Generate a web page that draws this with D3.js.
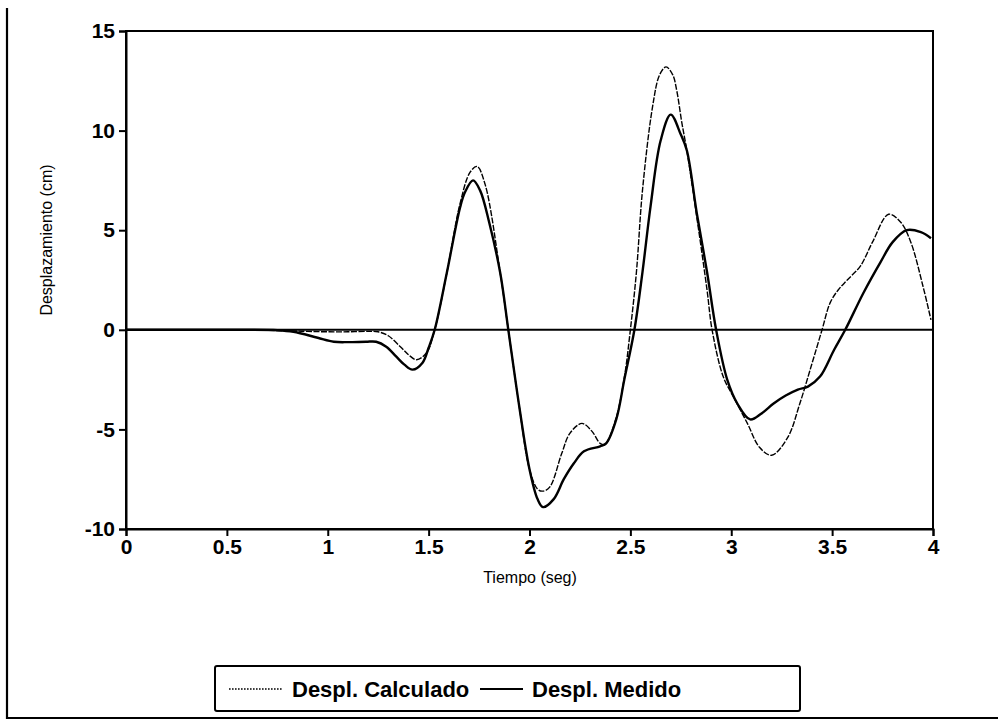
<!DOCTYPE html>
<html>
<head>
<meta charset="utf-8">
<script src="https://cdn.jsdelivr.net/npm/d3@7"></script>
<style>
  body { margin: 0; background: #fff; }
  svg { display: block; font-family: "Liberation Sans", Arial, sans-serif; }
</style>
</head>
<body>
<div id="chart"></div>
<script>
// Data
var calcT = [0, 0.5, 0.8, 0.9, 1.0, 1.1, 1.2, 1.25, 1.3, 1.36, 1.4, 1.44, 1.49, 1.53, 1.59, 1.655, 1.705, 1.74, 1.78, 1.855, 1.895, 1.95, 2.0, 2.04, 2.065, 2.1, 2.16, 2.2, 2.26, 2.31, 2.35, 2.375, 2.43, 2.47, 2.5, 2.53, 2.56, 2.61, 2.645, 2.677, 2.71, 2.73, 2.755, 2.78, 2.83, 2.88, 2.905, 2.96, 3.01, 3.08, 3.14, 3.2, 3.28, 3.34, 3.4, 3.45, 3.49, 3.53, 3.575, 3.64, 3.7, 3.78, 3.84, 3.89, 3.95, 3.99];
var calcV = [0, 0, -0.05, -0.08, -0.1, -0.1, -0.08, -0.1, -0.3, -0.85, -1.25, -1.5, -1.15, 0, 2.85, 6.3, 7.9, 8.2, 7.3, 2.85, 0, -3.9, -7.0, -8.0, -8.1, -7.9, -6.2, -5.2, -4.7, -5.1, -5.7, -5.75, -4.4, -2.4, 0, 2.9, 7.0, 11.2, 12.8, 13.2, 12.8, 12.0, 10.4, 9.0, 5.6, 2.0, 0, -2.35, -3.35, -4.7, -5.9, -6.3, -5.4, -3.7, -1.7, 0, 1.35, 2.0, 2.5, 3.2, 4.4, 5.8, 5.4, 4.4, 2.2, 0.5];

var medT = [0, 0.5, 0.75, 0.83, 0.95, 1.03, 1.1, 1.19, 1.24, 1.29, 1.34, 1.38, 1.42, 1.47, 1.5, 1.53, 1.59, 1.655, 1.68, 1.72, 1.755, 1.8, 1.855, 1.895, 1.95, 2.0, 2.04, 2.067, 2.12, 2.17, 2.22, 2.27, 2.35, 2.38, 2.43, 2.47, 2.52, 2.56, 2.6, 2.65, 2.7, 2.75, 2.78, 2.83, 2.88, 2.925, 2.98, 3.03, 3.094, 3.15, 3.21, 3.27, 3.33, 3.38, 3.44, 3.51, 3.565, 3.655, 3.74, 3.8, 3.87, 3.94, 3.99];
var medV = [0, 0, -0.02, -0.1, -0.4, -0.6, -0.62, -0.6, -0.6, -0.85, -1.35, -1.75, -2.0, -1.65, -0.9, 0, 2.85, 6.1, 6.9, 7.5, 7.0, 5.4, 2.85, 0, -3.9, -7.0, -8.5, -8.9, -8.5, -7.5, -6.7, -6.1, -5.85, -5.7, -4.5, -2.5, 0, 2.9, 6.2, 9.5, 10.8, 9.8, 9.0, 5.8, 2.9, 0, -2.5, -3.7, -4.5, -4.2, -3.7, -3.3, -3.0, -2.85, -2.35, -1.0, 0, 1.85, 3.4, 4.4, 5.0, 4.9, 4.6];

var xTicks = [0, 0.5, 1, 1.5, 2, 2.5, 3, 3.5, 4];
var yTicks = [-10, -5, 0, 5, 10, 15];
var legendNames = ["Despl. Calculado", "Despl. Medido"];

var W = 998, H = 720;
var FONT = '"Liberation Sans", Arial, sans-serif';
var svg = d3.select("#chart").append("svg")
    .attr("width", W)
    .attr("height", H);

svg.append("rect").attr("width", W).attr("height", H).attr("fill", "#fff");

// page frame (left and bottom only)
svg.append("path")
    .attr("d", "M7,8 V718 H998")
    .attr("fill", "none")
    .attr("stroke", "#000")
    .attr("stroke-width", 2.2);

var x = d3.scaleLinear().domain([0, 4]).range([126, 933]);
var y = d3.scaleLinear().domain([-10, 15]).range([529, 31]);

// plot box
svg.append("rect")
    .attr("x", x(0)).attr("y", y(15))
    .attr("width", x(4) - x(0)).attr("height", y(-10) - y(15))
    .attr("fill", "none")
    .attr("stroke", "#000")
    .attr("stroke-width", 2);

var yAxis = svg.append("g")
    .attr("transform", "translate(" + x(0) + ",0)")
    .call(d3.axisLeft(y).tickValues(yTicks).tickSize(7).tickPadding(4).tickFormat(function(d) { return String(d); }));

var xAxis = svg.append("g")
    .attr("transform", "translate(0," + y(-10) + ")")
    .call(d3.axisBottom(x).tickValues(xTicks).tickSize(7).tickPadding(3).tickFormat(function(d) { return String(d); }));

[yAxis, xAxis].forEach(function(g) {
    g.attr("font-family", FONT);
    g.select(".domain").attr("stroke-width", 2);
    g.selectAll(".tick line").attr("stroke-width", 2);
    g.selectAll(".tick text")
        .attr("fill", "#000")
        .style("font-size", "21px")
        .style("font-weight", "bold");
});

// zero line
svg.append("line")
    .attr("x1", x(0)).attr("x2", x(4))
    .attr("y1", y(0)).attr("y2", y(0))
    .attr("stroke", "#000")
    .attr("stroke-width", 2);

var line = d3.line()
    .x(function(d) { return x(d[0]); })
    .y(function(d) { return y(d[1]); })
    .curve(d3.curveCatmullRom.alpha(0.5));

var calc = d3.zip(calcT, calcV);
var med = d3.zip(medT, medV);

svg.append("path")
    .datum(calc)
    .attr("d", line)
    .attr("fill", "none")
    .attr("stroke", "#000")
    .attr("stroke-width", 1.4)
    .attr("stroke-dasharray", "6,1.5");

svg.append("path")
    .datum(med)
    .attr("d", line)
    .attr("fill", "none")
    .attr("stroke", "#000")
    .attr("stroke-width", 2.4);

// axis titles
svg.append("text")
    .attr("x", 530).attr("y", 583)
    .attr("text-anchor", "middle")
    .style("font-size", "16px")
    .text("Tiempo (seg)");

svg.append("text")
    .attr("transform", "translate(52,240) rotate(-90)")
    .attr("text-anchor", "middle")
    .style("font-size", "16px")
    .text("Desplazamiento (cm)");

// legend
var lg = svg.append("g");
lg.append("rect")
    .attr("x", 215).attr("y", 666)
    .attr("width", 585).attr("height", 45)
    .attr("rx", 2)
    .attr("fill", "#fff")
    .attr("stroke", "#000")
    .attr("stroke-width", 2);

lg.append("line")
    .attr("x1", 229).attr("x2", 283).attr("y1", 689).attr("y2", 689)
    .attr("stroke", "#000").attr("stroke-width", 1.6)
    .attr("stroke-dasharray", "1.6,1.4");
lg.append("text")
    .attr("x", 292).attr("y", 697)
    .style("font-size", "22px")
    .style("font-weight", "bold")
    .text(legendNames[0]);

lg.append("line")
    .attr("x1", 480).attr("x2", 523).attr("y1", 689).attr("y2", 689)
    .attr("stroke", "#000").attr("stroke-width", 2);
lg.append("text")
    .attr("x", 532).attr("y", 697)
    .style("font-size", "22px")
    .style("font-weight", "bold")
    .text(legendNames[1]);
</script>
</body>
</html>
